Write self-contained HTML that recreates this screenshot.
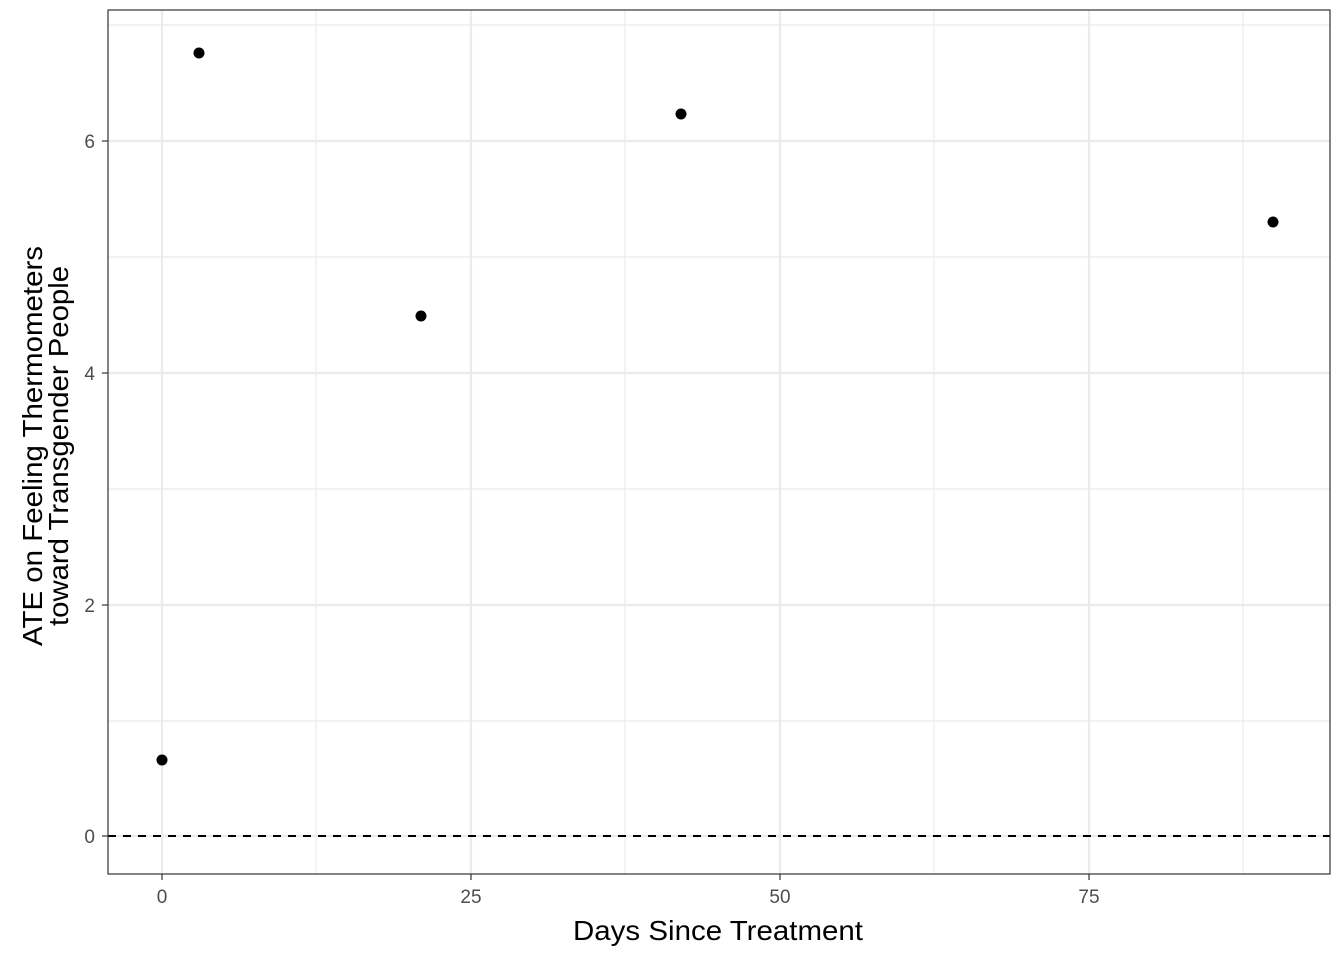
<!DOCTYPE html>
<html><head><style>body{margin:0;background:#fff}svg{display:block}</style></head><body>
<svg width="1344" height="960" xmlns="http://www.w3.org/2000/svg" font-family="Liberation Sans, Arial, sans-serif">
<rect width="1344" height="960" fill="#fff"/>
<g stroke="#ebebeb" stroke-width="1.2">
<line x1="316" y1="10" x2="316" y2="874"/><line x1="625" y1="10" x2="625" y2="874"/><line x1="934" y1="10" x2="934" y2="874"/><line x1="1243" y1="10" x2="1243" y2="874"/>
<line x1="108" y1="721" x2="1330" y2="721"/><line x1="108" y1="489" x2="1330" y2="489"/><line x1="108" y1="257" x2="1330" y2="257"/><line x1="108" y1="25" x2="1330" y2="25"/>
</g>
<g stroke="#ebebeb" stroke-width="2.2">
<line x1="162" y1="10" x2="162" y2="874"/><line x1="471" y1="10" x2="471" y2="874"/><line x1="780" y1="10" x2="780" y2="874"/><line x1="1089" y1="10" x2="1089" y2="874"/>
<line x1="108" y1="836" x2="1330" y2="836"/><line x1="108" y1="605" x2="1330" y2="605"/><line x1="108" y1="373" x2="1330" y2="373"/><line x1="108" y1="141" x2="1330" y2="141"/>
</g>
<line x1="108" y1="836" x2="1330" y2="836" stroke="#000" stroke-width="2" stroke-dasharray="8,7"/>
<g fill="#000">
<circle cx="162" cy="760" r="5.5"/><circle cx="199" cy="53" r="5.5"/><circle cx="421" cy="316" r="5.5"/><circle cx="681" cy="114" r="5.5"/><circle cx="1273" cy="222" r="5.5"/>
</g>
<rect x="108" y="10" width="1222" height="864" fill="none" stroke="#333" stroke-width="1.2"/>
<g stroke="#333" stroke-width="1.2">
<line x1="162" y1="874" x2="162" y2="880"/><line x1="471" y1="874" x2="471" y2="880"/><line x1="780" y1="874" x2="780" y2="880"/><line x1="1089" y1="874" x2="1089" y2="880"/>
<line x1="102" y1="836" x2="108" y2="836"/><line x1="102" y1="605" x2="108" y2="605"/><line x1="102" y1="373" x2="108" y2="373"/><line x1="102" y1="141" x2="108" y2="141"/>
</g>
<g fill="#4d4d4d" font-size="19">
<text x="162" y="903" text-anchor="middle">0</text><text x="471" y="903" text-anchor="middle">25</text><text x="780" y="903" text-anchor="middle">50</text><text x="1089" y="903" text-anchor="middle">75</text>
<text x="95" y="843" text-anchor="end">0</text><text x="95" y="612" text-anchor="end">2</text><text x="95" y="380" text-anchor="end">4</text><text x="95" y="148" text-anchor="end">6</text>
</g>
<text x="718" y="940" text-anchor="middle" font-size="28" textLength="290" lengthAdjust="spacingAndGlyphs">Days Since Treatment</text>
<g transform="translate(42,446) rotate(-90)" font-size="28" text-anchor="middle">
<text x="0" y="0" textLength="400" lengthAdjust="spacingAndGlyphs">ATE on Feeling Thermometers</text><text x="0" y="26" textLength="360" lengthAdjust="spacingAndGlyphs">toward Transgender People</text>
</g>
</svg>
</body></html>
